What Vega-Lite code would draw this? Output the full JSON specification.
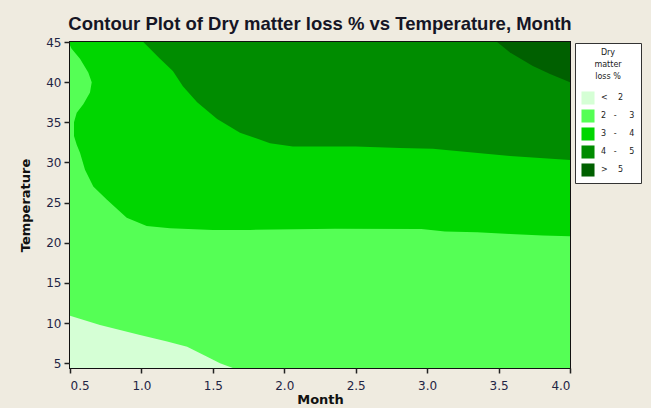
{
  "$schema": "https://vega.github.io/schema/vega-lite/v6.json",
  "width": 500,
  "height": 326,
  "autosize": {"type": "none"},
  "padding": {"left": 70, "top": 42, "right": 81, "bottom": 40},
  "background": "#EFEBE0",
  "title": {
    "text": "Contour Plot of Dry matter loss % vs Temperature, Month",
    "font": "Liberation Sans",
    "fontSize": 18.5,
    "fontWeight": "bold",
    "color": "#151525",
    "anchor": "middle",
    "baseline": "alphabetic",
    "offset": 15,
    "dy": 27
  },
  "datasets": {
    "polys": [
      {"level": "2 - 3", "i": 1, "month": 0.5, "temp": 4.4},
      {"level": "2 - 3", "i": 2, "month": 4.0, "temp": 4.4},
      {"level": "2 - 3", "i": 3, "month": 4.0, "temp": 45},
      {"level": "2 - 3", "i": 4, "month": 0.5, "temp": 45},

      {"level": "3 - 4", "i": 1, "month": 0.5, "temp": 45},
      {"level": "3 - 4", "i": 2, "month": 0.5, "temp": 44.6},
      {"level": "3 - 4", "i": 3, "month": 0.51, "temp": 44.2},
      {"level": "3 - 4", "i": 4, "month": 0.57, "temp": 42.9},
      {"level": "3 - 4", "i": 5, "month": 0.628, "temp": 41.2},
      {"level": "3 - 4", "i": 6, "month": 0.652, "temp": 40.0},
      {"level": "3 - 4", "i": 7, "month": 0.64, "temp": 38.7},
      {"level": "3 - 4", "i": 8, "month": 0.593, "temp": 37.25},
      {"level": "3 - 4", "i": 9, "month": 0.547, "temp": 36.2},
      {"level": "3 - 4", "i": 10, "month": 0.528, "temp": 35.0},
      {"level": "3 - 4", "i": 11, "month": 0.528, "temp": 33.3},
      {"level": "3 - 4", "i": 12, "month": 0.547, "temp": 32.2},
      {"level": "3 - 4", "i": 13, "month": 0.57, "temp": 31.2},
      {"level": "3 - 4", "i": 14, "month": 0.605, "temp": 29.1},
      {"level": "3 - 4", "i": 15, "month": 0.663, "temp": 27.0},
      {"level": "3 - 4", "i": 16, "month": 0.757, "temp": 25.4},
      {"level": "3 - 4", "i": 17, "month": 0.897, "temp": 23.1},
      {"level": "3 - 4", "i": 18, "month": 1.037, "temp": 22.1},
      {"level": "3 - 4", "i": 19, "month": 1.2, "temp": 21.8},
      {"level": "3 - 4", "i": 20, "month": 1.5, "temp": 21.6},
      {"level": "3 - 4", "i": 21, "month": 1.76, "temp": 21.6},
      {"level": "3 - 4", "i": 22, "month": 2.355, "temp": 21.75},
      {"level": "3 - 4", "i": 23, "month": 2.96, "temp": 21.7},
      {"level": "3 - 4", "i": 24, "month": 3.125, "temp": 21.4},
      {"level": "3 - 4", "i": 25, "month": 3.35, "temp": 21.3},
      {"level": "3 - 4", "i": 26, "month": 3.58, "temp": 21.1},
      {"level": "3 - 4", "i": 27, "month": 3.81, "temp": 20.9},
      {"level": "3 - 4", "i": 28, "month": 4.0, "temp": 20.8},
      {"level": "3 - 4", "i": 29, "month": 4.0, "temp": 45},

      {"level": "4 - 5", "i": 1, "month": 1.013, "temp": 45},
      {"level": "4 - 5", "i": 2, "month": 1.13, "temp": 42.9},
      {"level": "4 - 5", "i": 3, "month": 1.22, "temp": 41.4},
      {"level": "4 - 5", "i": 4, "month": 1.29, "temp": 39.5},
      {"level": "4 - 5", "i": 5, "month": 1.39, "temp": 37.5},
      {"level": "4 - 5", "i": 6, "month": 1.53, "temp": 35.4},
      {"level": "4 - 5", "i": 7, "month": 1.69, "temp": 33.7},
      {"level": "4 - 5", "i": 8, "month": 1.9, "temp": 32.4},
      {"level": "4 - 5", "i": 9, "month": 2.06, "temp": 32.0},
      {"level": "4 - 5", "i": 10, "month": 2.5, "temp": 32.0},
      {"level": "4 - 5", "i": 11, "month": 2.81, "temp": 31.8},
      {"level": "4 - 5", "i": 12, "month": 3.04, "temp": 31.7},
      {"level": "4 - 5", "i": 13, "month": 3.28, "temp": 31.3},
      {"level": "4 - 5", "i": 14, "month": 3.58, "temp": 30.8},
      {"level": "4 - 5", "i": 15, "month": 4.0, "temp": 30.3},
      {"level": "4 - 5", "i": 16, "month": 4.0, "temp": 45},

      {"level": "> 5", "i": 1, "month": 3.49, "temp": 45},
      {"level": "> 5", "i": 2, "month": 3.58, "temp": 43.7},
      {"level": "> 5", "i": 3, "month": 3.74, "temp": 42.0},
      {"level": "> 5", "i": 4, "month": 3.86, "temp": 41.0},
      {"level": "> 5", "i": 5, "month": 4.0, "temp": 40.0},
      {"level": "> 5", "i": 6, "month": 4.0, "temp": 45},

      {"level": "< 2", "i": 1, "month": 0.5, "temp": 4.4},
      {"level": "< 2", "i": 2, "month": 0.5, "temp": 10.9},
      {"level": "< 2", "i": 3, "month": 0.71, "temp": 9.75},
      {"level": "< 2", "i": 4, "month": 0.99, "temp": 8.5},
      {"level": "< 2", "i": 5, "month": 1.18, "temp": 7.7},
      {"level": "< 2", "i": 6, "month": 1.32, "temp": 7.05},
      {"level": "< 2", "i": 7, "month": 1.46, "temp": 5.8},
      {"level": "< 2", "i": 8, "month": 1.55, "temp": 5.0},
      {"level": "< 2", "i": 9, "month": 1.64, "temp": 4.4}
    ]
  },
  "data": {"name": "polys"},
  "encoding": {
    "x": {
      "field": "month", "type": "quantitative",
      "scale": {"domain": [0.5, 4.0], "nice": false, "zero": false},
      "axis": {"values": [0.5, 1, 1.5, 2, 2.5, 3, 3.5, 4], "format": ".1f", "title": "Month", "labelPadding": 7, "titlePadding": 2, "tickSize": 5}
    },
    "y": {
      "field": "temp", "type": "quantitative",
      "scale": {"domain": [4.4, 45], "nice": false, "zero": false},
      "axis": {"values": [5, 10, 15, 20, 25, 30, 35, 40, 45], "title": "Temperature", "labelPadding": 3, "titlePadding": 13, "tickSize": 6}
    },
    "order": {"field": "i", "type": "quantitative"},
    "color": {
      "field": "level", "type": "nominal",
      "scale": {
        "domain": ["< 2", "2 - 3", "3 - 4", "4 - 5", "> 5"],
        "range": ["#D5FFD5", "#55FF55", "#00D600", "#008C00", "#006000"]
      },
      "legend": {
        "orient": "none",
        "legendX": 505,
        "legendY": 1,
        "title": ["Dry", "matter", "loss %"],
        "titleFont": "DejaVu Sans",
        "titleFontSize": 8,
        "titleFontWeight": "normal",
        "titleColor": "#222",
        "titleLineHeight": 12,
        "titleAlign": "center",
        "titleAnchor": "middle",
        "titlePadding": 10,
        "labelFont": "DejaVu Sans",
        "labelFontSize": 8,
        "labelColor": "#222",
        "labelExpr": "datum.label == '< 2' ? '\u00a0\u00a0\u00a0\u00a0\u00a0<\u00a0\u00a0\u00a0\u00a02' : datum.label == '> 5' ? '\u00a0\u00a0\u00a0\u00a0\u00a0>\u00a0\u00a0\u00a0\u00a05' : replace(datum.label, ' - ', '\u00a0\u00a0\u00a0-\u00a0\u00a0\u00a0\u00a0\u00a0')",
        "symbolType": "square",
        "symbolSize": 170,
        "symbolStrokeWidth": 0,
        "symbolOpacity": 1,
        "labelOffset": 6,
        "rowPadding": 4,
        "padding": 6,
        "fillColor": "white",
        "strokeColor": "#333",
        "labelLimit": 200
      }
    }
  },
  "layer": [
    {"transform": [{"filter": "datum.level == '2 - 3'"}], "mark": {"type": "line", "filled": true, "clip": true}},
    {"transform": [{"filter": "datum.level == '3 - 4'"}], "mark": {"type": "line", "filled": true, "clip": true}},
    {"transform": [{"filter": "datum.level == '4 - 5'"}], "mark": {"type": "line", "filled": true, "clip": true}},
    {"transform": [{"filter": "datum.level == '> 5'"}], "mark": {"type": "line", "filled": true, "clip": true}},
    {"transform": [{"filter": "datum.level == '< 2'"}], "mark": {"type": "line", "filled": true, "clip": true}}
  ],
  "config": {
    "view": {"stroke": "#111", "strokeWidth": 2},
    "axis": {
      "grid": false,
      "domain": false,
      "tickColor": "#222",
      "tickWidth": 1.5,
      "labelFont": "DejaVu Sans",
      "labelFontSize": 12,
      "labelColor": "#1F2544",
      "titleFont": "DejaVu Sans",
      "titleFontSize": 13,
      "titleFontWeight": "bold",
      "titleColor": "#111"
    }
  }
}
